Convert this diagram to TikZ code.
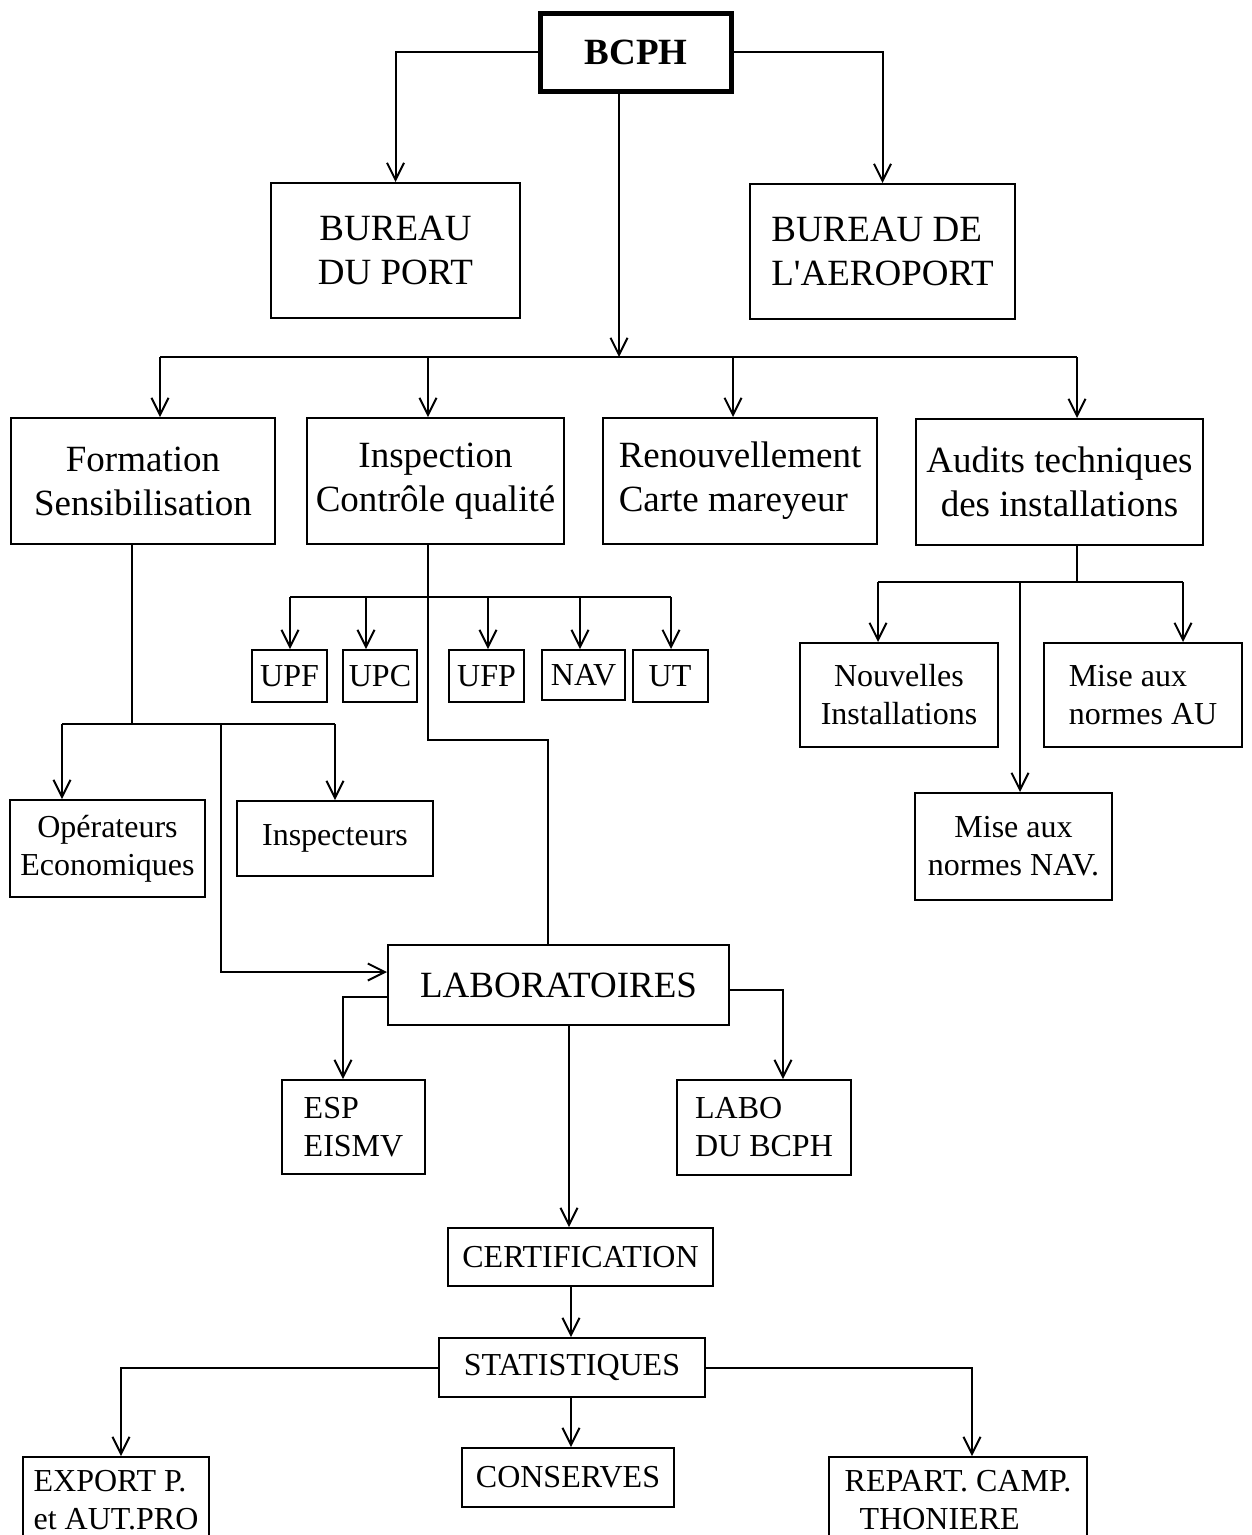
\documentclass[tikz,border=0pt]{standalone}
\usepackage{fontspec}
\setmainfont{Liberation Serif}
\usetikzlibrary{arrows.meta}

\begin{document}
\begin{tikzpicture}[
    x=1pt, y=-1pt,
    line width=2pt,
    >={Straight Barb[length=17pt,width=17pt]},
    box/.style={draw, line width=2pt, inner sep=0pt, align=center,
        font=\fontsize{37}{44}\selectfont},
    sbox/.style={box, font=\fontsize{32}{38}\selectfont},
    arr/.style={->},
]
\useasboundingbox (0,0) rectangle (1252,1535);
\clip (0,0) rectangle (1252,1535);

% === Top level ===
\node[box, line width=5pt, minimum width=191pt, minimum height=78pt,
      font=\fontsize{37}{44}\selectfont\bfseries] (bcph) at (636,52) {BCPH};
\node[box, minimum width=249pt, minimum height=135pt] (port) at (395.5,250.5) {BUREAU\\DU PORT};
\node[box, align=left, minimum width=265pt, minimum height=135pt] (aero) at (882.5,251.5) {BUREAU DE\\L\textquotesingle AEROPORT};

% === Services ===
\node[box, minimum width=264pt, minimum height=126pt] (form) at (143,481) {Formation\\Sensibilisation};
\node[box, minimum width=257pt, minimum height=126pt] (insp) at (435.5,481) {Inspection\\Contrôle qualité};
\node[box, align=left, minimum width=274pt, minimum height=126pt] (renouv) at (740,481) {Renouvellement\\Carte mareyeur};
\node[box, minimum width=287pt, minimum height=126pt] (audit) at (1059.5,482) {Audits techniques\\des installations};

% === Units under inspection ===
\node[sbox, minimum width=75pt, minimum height=52pt] (upf) at (289.5,676) {UPF};
\node[sbox, minimum width=74pt, minimum height=52pt] (upc) at (380,676) {UPC};
\node[sbox, minimum width=75pt, minimum height=52pt] (ufp) at (486.5,676) {UFP};
\node[sbox, minimum width=83pt, minimum height=50pt] (nav) at (583.5,675) {NAV};
\node[sbox, minimum width=75pt, minimum height=52pt] (ut) at (670,676) {UT};

% === Audits ===
\node[sbox, minimum width=198pt, minimum height=104pt] (nouv) at (899,695) {Nouvelles\\Installations};
\node[sbox, align=left, minimum width=198pt, minimum height=104pt] (normau) at (1143,695) {Mise aux\\normes AU};
\node[sbox, minimum width=197pt, minimum height=107pt] (normnav) at (1013.5,846.5) {Mise aux\\normes NAV.};

% === Formation ===
\node[sbox, minimum width=195pt, minimum height=97pt] (oper) at (107.5,848.5) {Opérateurs\\Economiques};
\node[sbox, minimum width=196pt, minimum height=75pt] (inspr) at (335,838.5) {Inspecteurs};

% === Laboratories and below ===
\node[box, minimum width=341pt, minimum height=80pt] (lab) at (558.5,985) {LABORATOIRES};
\node[sbox, align=left, minimum width=143pt, minimum height=94pt] (esp) at (353.5,1127) {ESP\\EISMV};
\node[sbox, align=left, minimum width=174pt, minimum height=95pt] (labo) at (764,1127.5) {LABO\\DU BCPH};
\node[sbox, minimum width=265pt, minimum height=58pt] (cert) at (580.5,1257) {CERTIFICATION};
\node[sbox, minimum width=266pt, minimum height=59pt] (stat) at (572,1367.5) {STATISTIQUES};
\node[sbox, minimum width=212pt, minimum height=59pt] (cons) at (568,1477.5) {CONSERVES};
\node[sbox, align=left, minimum width=186pt, minimum height=86pt] (export) at (116,1500) {EXPORT P.\\et AUT.PRO};
\node[sbox, align=left, minimum width=258pt, minimum height=86pt] (repart) at (958,1500) {REPART. CAMP.\\\hspace*{15pt}THONIERE};

% === Connectors from BCPH ===
\draw[arr] (bcph.west) -| (port.north);
\draw[arr] (bcph.east) -| (aero.north);
\coordinate (mainbus) at (619,357);
\coordinate (busL) at (160,357);
\coordinate (busI) at (428,357);
\coordinate (busC) at (733,357);
\coordinate (busR) at (1077,357);
\draw[arr] (bcph.south -| mainbus) -- (mainbus);
\draw (busL) -- (busR);
\draw[arr] (busL) -- (busL |- form.north);
\draw[arr] (busI) -- (busI |- insp.north);
\draw[arr] (busC) -- (busC |- renouv.north);
\draw[arr] (busR) -- (busR |- audit.north);

% === Inspection branch ===
\coordinate (ibend) at (428,740);
\coordinate (ilab) at (548,740);
\draw (insp.south -| ibend) -- (ibend) -- (ilab) -- (ilab |- lab.north);
\coordinate (uL) at (290,597);
\coordinate (uR) at (671,597);
\draw (uL) -- (uR);
\foreach \unit/\ux in {upf/290, upc/366, ufp/488, nav/580, ut/671} {
    \coordinate (ua) at (\ux,597);
    \draw[arr] (ua) -- (ua |- \unit.north);
}

% === Formation branch ===
\coordinate (fbus) at (132,724);
\coordinate (fL) at (62,724);
\coordinate (fM) at (221,724);
\coordinate (fR) at (335,724);
\draw (form.south -| fbus) -- (fbus);
\draw (fL) -- (fR);
\draw[arr] (fL) -- (fL |- oper.north);
\draw[arr] (fR) -- (fR |- inspr.north);
\draw[arr] (fM) |- ([yshift=13pt]lab.west);

% === Audits branch ===
\coordinate (abus) at (1077,582);
\coordinate (aL) at (878,582);
\coordinate (aM) at (1020,582);
\coordinate (aR) at (1183,582);
\draw (audit.south -| abus) -- (abus);
\draw (aL) -- (aR);
\draw[arr] (aL) -- (aL |- nouv.north);
\draw[arr] (aR) -- (aR |- normau.north);
\draw[arr] (aM) -- (aM |- normnav.north);

% === Laboratories branch ===
\coordinate (lx1) at (343,997);
\coordinate (lx2) at (783,990);
\coordinate (lx3) at (569,1100);
\coordinate (cx) at (571,1300);
\draw[arr] (lab.west |- lx1) -- (lx1) -- (lx1 |- esp.north);
\draw[arr] (lab.east |- lx2) -- (lx2) -- (lx2 |- labo.north);
\draw[arr] (lab.south -| lx3) -- (lx3 |- cert.north);
\draw[arr] (cert.south -| cx) -- (cx |- stat.north);

% === Statistics branch ===
\coordinate (sx1) at (121,1368);
\coordinate (sx2) at (972,1368);
\draw[arr] (stat.south -| cx) -- (cx |- cons.north);
\draw[arr] (stat.west |- sx1) -- (sx1) -- (sx1 |- export.north);
\draw[arr] (stat.east |- sx2) -- (sx2) -- (sx2 |- repart.north);

\end{tikzpicture}
\end{document}
